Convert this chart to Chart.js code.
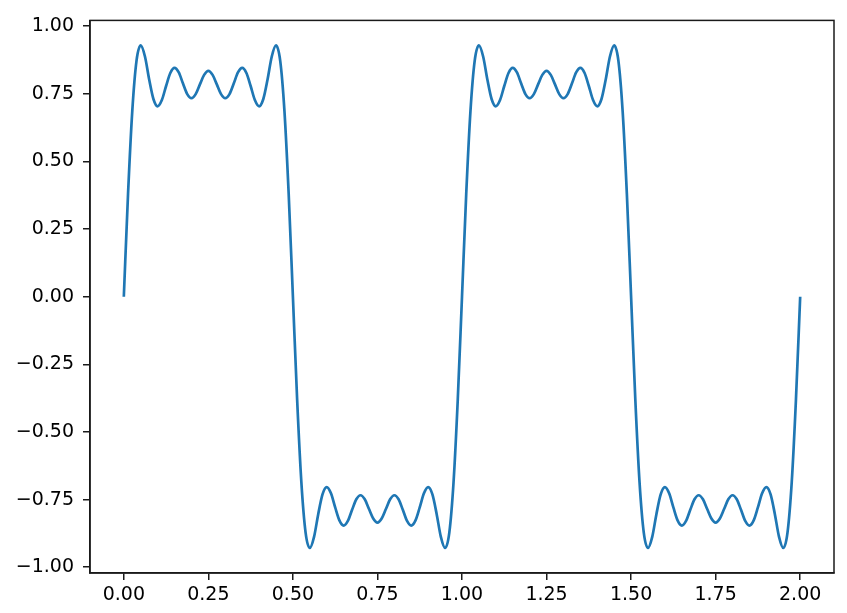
<!DOCTYPE html>
<html>
<head>
<meta charset="utf-8">
<script src="https://cdn.jsdelivr.net/npm/chart.js@4/dist/chart.umd.min.js"></script>
<style>
  html, body { margin: 0; padding: 0; background: #fff; }
</style>
</head>
<body>
<canvas id="chart" width="847" height="613"></canvas>
<script>
// sample positions along x
const xs = [
  0.0000, 0.0125, 0.0250, 0.0375, 0.0500, 0.0625, 0.0750, 0.0875, 0.1000, 0.1125,
  0.1250, 0.1375, 0.1500, 0.1625, 0.1750, 0.1875, 0.2000, 0.2125, 0.2250, 0.2375,
  0.2500, 0.2625, 0.2750, 0.2875, 0.3000, 0.3125, 0.3250, 0.3375, 0.3500, 0.3625,
  0.3750, 0.3875, 0.4000, 0.4125, 0.4250, 0.4375, 0.4500, 0.4625, 0.4750, 0.4875,
  0.5000, 0.5125, 0.5250, 0.5375, 0.5500, 0.5625, 0.5750, 0.5875, 0.6000, 0.6125,
  0.6250, 0.6375, 0.6500, 0.6625, 0.6750, 0.6875, 0.7000, 0.7125, 0.7250, 0.7375,
  0.7500, 0.7625, 0.7750, 0.7875, 0.8000, 0.8125, 0.8250, 0.8375, 0.8500, 0.8625,
  0.8750, 0.8875, 0.9000, 0.9125, 0.9250, 0.9375, 0.9500, 0.9625, 0.9750, 0.9875,
  1.0000, 1.0125, 1.0250, 1.0375, 1.0500, 1.0625, 1.0750, 1.0875, 1.1000, 1.1125,
  1.1250, 1.1375, 1.1500, 1.1625, 1.1750, 1.1875, 1.2000, 1.2125, 1.2250, 1.2375,
  1.2500, 1.2625, 1.2750, 1.2875, 1.3000, 1.3125, 1.3250, 1.3375, 1.3500, 1.3625,
  1.3750, 1.3875, 1.4000, 1.4125, 1.4250, 1.4375, 1.4500, 1.4625, 1.4750, 1.4875,
  1.5000, 1.5125, 1.5250, 1.5375, 1.5500, 1.5625, 1.5750, 1.5875, 1.6000, 1.6125,
  1.6250, 1.6375, 1.6500, 1.6625, 1.6750, 1.6875, 1.7000, 1.7125, 1.7250, 1.7375,
  1.7500, 1.7625, 1.7750, 1.7875, 1.8000, 1.8125, 1.8250, 1.8375, 1.8500, 1.8625,
  1.8750, 1.8875, 1.9000, 1.9125, 1.9250, 1.9375, 1.9500, 1.9625, 1.9750, 1.9875,
  2.0000
];

// curve values
const ys = [
   0.000,  0.380,  0.686,  0.872,  0.929,  0.888,  0.803,  0.731,  0.704,  0.727,
   0.779,  0.827,  0.846,  0.829,  0.788,  0.749,  0.734,  0.749,  0.785,  0.820,
   0.835,  0.820,  0.785,  0.749,  0.734,  0.749,  0.788,  0.829,  0.846,  0.827,
   0.779,  0.727,  0.704,  0.731,  0.803,  0.888,  0.929,  0.872,  0.686,  0.380,
   0.000, -0.380, -0.686, -0.872, -0.929, -0.888, -0.803, -0.731, -0.704, -0.727,
  -0.779, -0.827, -0.846, -0.829, -0.788, -0.749, -0.734, -0.749, -0.785, -0.820,
  -0.835, -0.820, -0.785, -0.749, -0.734, -0.749, -0.788, -0.829, -0.846, -0.827,
  -0.779, -0.727, -0.704, -0.731, -0.803, -0.888, -0.929, -0.872, -0.686, -0.380,
   0.000,  0.380,  0.686,  0.872,  0.929,  0.888,  0.803,  0.731,  0.704,  0.727,
   0.779,  0.827,  0.846,  0.829,  0.788,  0.749,  0.734,  0.749,  0.785,  0.820,
   0.835,  0.820,  0.785,  0.749,  0.734,  0.749,  0.788,  0.829,  0.846,  0.827,
   0.779,  0.727,  0.704,  0.731,  0.803,  0.888,  0.929,  0.872,  0.686,  0.380,
   0.000, -0.380, -0.686, -0.872, -0.929, -0.888, -0.803, -0.731, -0.704, -0.727,
  -0.779, -0.827, -0.846, -0.829, -0.788, -0.749, -0.734, -0.749, -0.785, -0.820,
  -0.835, -0.820, -0.785, -0.749, -0.734, -0.749, -0.788, -0.829, -0.846, -0.827,
  -0.779, -0.727, -0.704, -0.731, -0.803, -0.888, -0.929, -0.872, -0.686, -0.380,
   0.000
];

const xTicks = [0, 0.25, 0.5, 0.75, 1, 1.25, 1.5, 1.75, 2];
const yTicks = [-1, -0.75, -0.5, -0.25, 0, 0.25, 0.5, 0.75, 1];

const fmt = (v) => v.toFixed(2).replace("-", "\u2212");

// matplotlib style frame around the plot area
const frame = {
  id: "frame",
  afterDraw(chart) {
    const { ctx, chartArea: a } = chart;
    ctx.save();
    ctx.strokeStyle = "#1a1a1a";
    ctx.lineWidth = 1.5;
    ctx.strokeRect(a.left, a.top, a.right - a.left, a.bottom - a.top);
    ctx.restore();
  },
};

const font = { family: "'DejaVu Sans', sans-serif", size: 19 };

new Chart(document.getElementById("chart"), {
  type: "line",
  data: {
    datasets: [
      {
        data: xs.map((x, i) => ({ x: x, y: ys[i] })),
        borderColor: "#1f77b4",
        borderWidth: 2.7,
        pointRadius: 0,
        cubicInterpolationMode: "monotone",
        fill: false,
      },
    ],
  },
  plugins: [frame],
  options: {
    responsive: false,
    animation: false,
    devicePixelRatio: 1,
    layout: { padding: { left: 0, top: 17, right: 13, bottom: 0 } },
    plugins: {
      legend: { display: false },
      tooltip: { enabled: false },
    },
    scales: {
      x: {
        type: "linear",
        min: -0.1,
        max: 2.1,
        afterBuildTicks: (s) => { s.ticks = xTicks.map((v) => ({ value: v })); },
        afterFit: (s) => { s.height = 40; },
        ticks: { font: font, color: "#000", padding: 4, callback: fmt, maxRotation: 0 },
        grid: { drawOnChartArea: false, tickLength: 7, color: "#1a1a1a", lineWidth: 1.5 },
        border: { color: "#1a1a1a", width: 1.5 },
      },
      y: {
        min: -1.0215,
        max: 1.0215,
        afterBuildTicks: (s) => { s.ticks = yTicks.map((v) => ({ value: v })); },
        afterFit: (s) => { s.width = 90; },
        ticks: { font: font, color: "#000", padding: 9, callback: fmt },
        grid: { drawOnChartArea: false, tickLength: 7, color: "#1a1a1a", lineWidth: 1.5 },
        border: { color: "#1a1a1a", width: 1.5 },
      },
    },
  },
});
</script>
</body>
</html>
